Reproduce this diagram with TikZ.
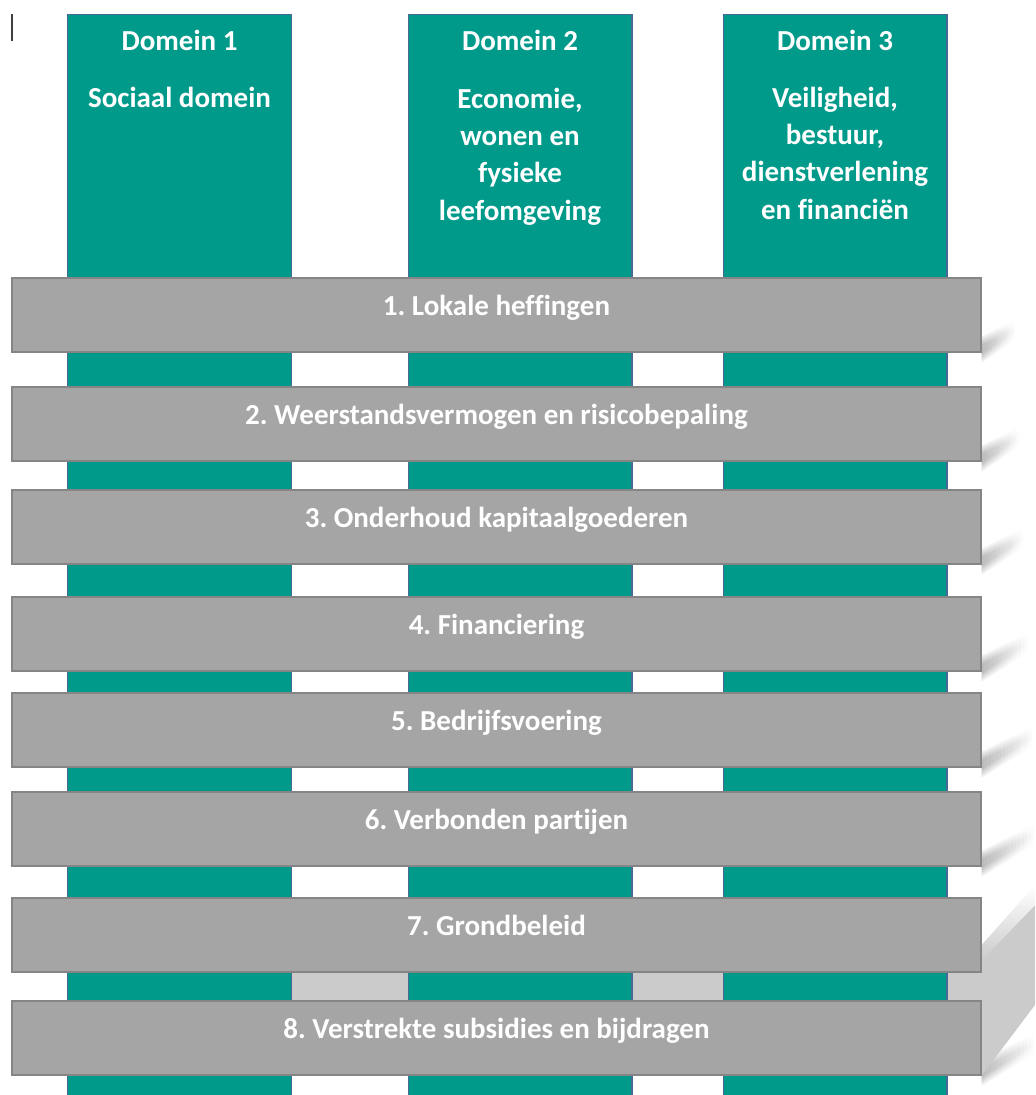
\documentclass[tikz,border=0pt]{standalone}
\usepackage{fontspec}
\setmainfont{Carlito}[Ligatures=NoCommon]
\usepackage{tikz}
\usetikzlibrary{positioning, fadings}
\usepackage{xcolor}

\definecolor{domeingroen}{HTML}{009A8A}
\definecolor{domeinrand}{HTML}{4A6896}
\definecolor{balkgrijs}{HTML}{A5A5A5}
\definecolor{balkrand}{HTML}{858585}
\definecolor{schaduwgrijs}{HTML}{CBCBCB}

\pgfdeclarelayer{achtergrond}
\pgfsetlayers{achtergrond,main}

\begin{document}
\frenchspacing
\begin{tikzpicture}[x=0.02cm, y=-0.02cm, thick]

			% Define style for domain columns
			\tikzstyle{domein} = [rectangle, draw=domeinrand, line width=0.6pt,
								fill=domeingroen, minimum width=4.48cm,
								minimum height=21.92cm, anchor=north, inner sep=0pt]

			% Define style for texts
			\tikzstyle{kop} = [text=white, align=center, anchor=base, inner sep=0pt,
								font=\fontsize{16.5}{21.3}\selectfont\bfseries]
			\tikzstyle{oms} = [kop, anchor=north]

			% Define style for bars
			\tikzstyle{balk} = [rectangle, draw=balkrand, line width=0.8pt,
								fill=balkgrijs, minimum width=19.38cm,
								minimum height=1.48cm, inner sep=0pt]

			% Define style for shadows
			\tikzstyle{schaduw} = [fill=black, fill opacity=0.06, path fading=east]
			\tikzstyle{schaduwvlak} = [fill=schaduwgrijs]

			\useasboundingbox (0,0) rectangle (1035,1095);

			% Cursor mark
			\draw[line width=0.7pt, black!75] (12,14) -- (12,41);

			% Place columns
			\node [domein] (dom1) at (179.5,14) {};
			\node [domein] (dom2) at (520,14) {};
			\node [domein] (dom3) at (835,14) {};

			\node [kop] (kop1) at (dom1.north |- 0,51) {Domein 1};
			\node [kop] (kop2) at (dom2.north |- 0,51) {Domein 2};
			\node [kop] (kop3) at (dom3.north |- 0,51) {Domein 3};

			\node [oms] (oms1) at (dom1.north |- 0,86) {Sociaal domein};
			\node [oms] (oms2) at (dom2.north |- 0,87) {Economie,\\wonen en\\fysieke\\leefomgeving};
			\node [oms] (oms3) at (dom3.north |- 0,86) {Veiligheid,\\bestuur,\\dienstverlening\\en financiën};

			% Place bars
			\foreach \i/\y/\len/\txt in {1/315/34/{1. Lokale heffingen},
					2/424/38/{2. Weerstandsvermogen en risicobepaling},
					3/527/42/{3. Onderhoud kapitaalgoederen},
					4/634/46/{4. Financiering},
					5/730/52/{5. Bedrijfsvoering},
					6/829/54/{6. Verbonden partijen},
					7/935/54/{7. Grondbeleid},
					8/1038/54/{8. Verstrekte subsidies en bijdragen}} {
				\node [balk] (b\i) at (496.5,\y) {};
				\node [kop] (t\i) at (b\i.center) {\txt};
				\begin{pgfonlayer}{achtergrond}
					\foreach \w in {4,8,12,16,20}
						\fill [schaduw] ([yshift=0.12cm+0.01cm*\w]b\i.south east)
							-- ++(\len,-0.5*\len) -- ++(0,\w)
							-- ([yshift=-0.01cm*\w]b\i.south east) -- cycle;
				\end{pgfonlayer}
			}

			% Draw large shadow
			\begin{pgfonlayer}{achtergrond}
				\fill [schaduwvlak] (100,973) rectangle (b8.north east);
				\fill [schaduwvlak] (b7.east |- 0,960) -- (1035,905) -- (1035,1005)
					-- (b8.south east) -- cycle;
				\shade [top color=white, bottom color=schaduwgrijs]
					(b7.east |- 0,945) -- (1035,885) -- (1035,905) -- (b7.east |- 0,960) -- cycle;
			\end{pgfonlayer}
		\end{tikzpicture}
\end{document}
